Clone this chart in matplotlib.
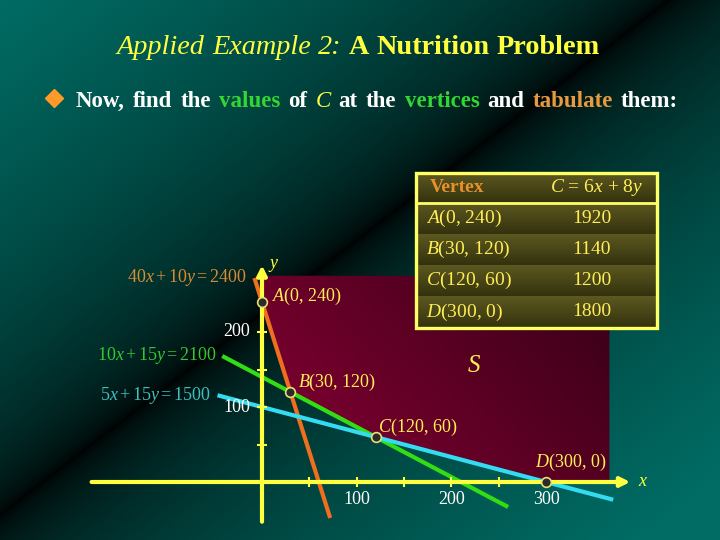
import numpy as np
import matplotlib
matplotlib.use('Agg')
import matplotlib.pyplot as plt
from matplotlib.patches import Polygon, Rectangle

plt.rcParams['font.family'] = ['Liberation Serif', 'DejaVu Serif']
plt.rcParams['mathtext.fontset'] = 'custom'
plt.rcParams['mathtext.rm'] = 'Liberation Serif'
plt.rcParams['mathtext.it'] = 'Liberation Serif:italic'
plt.rcParams['mathtext.bf'] = 'Liberation Serif:bold'

# ---------------- data ----------------
constraint_a = [40, 10, 5]
constraint_b = [10, 15, 15]
constraint_c = [2400, 2100, 1500]
constraint_labels = [r"$40x+10y=2400$", r"$10x+15y=2100$", r"$5x+15y=1500$"]
line_x_start = [-8, -42, -47]
line_x_end = [72, 260, 371]

vertex_names = ['A', 'B', 'C', 'D']
vertex_x = [0, 30, 120, 300]
vertex_y = [240, 120, 60, 0]
cost_values = [1920, 1140, 1200, 1800]

x_ticks = [50, 100, 150, 200, 250, 300]
x_tick_labels = [100, 200, 300]
y_ticks = [50, 100, 150, 200]
y_tick_labels = [100, 200]

region_xmax = 367
region_ymax = 275

title_parts = [("Applied Example 2:", 'italic', 'normal'),
               ("A Nutrition Problem", 'normal', 'bold')]
subtitle_words = [("Now,", 'w'), ("find", 'w'), ("the", 'w'), ("values", 'g'),
                  ("of", 'w'), ("C", 'yi'), ("at", 'w'), ("the", 'w'),
                  ("vertices", 'g'), ("and", 'w'), ("tabulate", 'o'), ("them:", 'w')]
table_header = ["Vertex", r"$C$ = 6$x$ + 8$y$"]

# ---------------- style ----------------
W, H = 720, 540
ORIGIN_PX = (262, 482)
SX, SY = 0.9467, 0.75
YELLOW = '#ffff40'
TXT_YELLOW = '#ffee55'
line_colors = ['#f06e1e', '#33dd14', '#33dcf0']
label_colors = ['#d88c32', '#33c833', '#3cc0c0']
word_colors = {'w': '#ffffff', 'g': '#33d633', 'o': '#e89a40', 'yi': '#ffff40'}

fig = plt.figure(figsize=(7.2, 5.4), dpi=100)
R = fig.canvas.get_renderer()

# background axes (pixel coords)
bg = fig.add_axes([0, 0, 1, 1], zorder=0)
bg.set_xlim(0, W); bg.set_ylim(H, 0); bg.axis('off')
px, py = np.meshgrid(np.arange(W) + 0.5, np.arange(H) + 0.5)
u = (0.77 * px + py) / 515.0
f = np.clip(np.abs(1 - u), 0, 1) ** 0.5
teal = np.array([0, 108, 100]) / 255.0
bgimg = f[..., None] * teal[None, None, :]
bg.imshow(bgimg, extent=[0, W, H, 0], origin='upper', aspect='auto', interpolation='bilinear')

# data axes
ax = fig.add_axes([0, 0, 1, 1], zorder=1)
ax.patch.set_alpha(0)
ax.set_xlim(-ORIGIN_PX[0] / SX, (W - ORIGIN_PX[0]) / SX)
ax.set_ylim(-(H - ORIGIN_PX[1]) / SY, ORIGIN_PX[1] / SY)
ax.axis('off')

# feasible region with gradient
gx, gy = np.meshgrid(np.linspace(0, region_xmax, 200), np.linspace(0, region_ymax, 200))
v = 0.65 * gx / region_xmax + 0.35 * gy / region_ymax
bright = np.array([135, 0, 52]) / 255.0
dark = np.array([55, 0, 22]) / 255.0
rimg = bright[None, None, :] * (1 - v[..., None]) + dark[None, None, :] * v[..., None]
im = ax.imshow(rimg, extent=[0, region_xmax, 0, region_ymax], origin='lower',
               aspect='auto', zorder=1, interpolation='bilinear')
poly_pts = [(0, region_ymax), (region_xmax, region_ymax), (region_xmax, 0)] + \
           list(zip(vertex_x[::-1], vertex_y[::-1]))
clip = Polygon(poly_pts, closed=True, transform=ax.transData, facecolor='none', edgecolor='none')
ax.add_patch(clip)
im.set_clip_path(clip)

# constraint lines
label_offsets = [(-7, 0), (-5, 0), (-7, 0)]
for a, b, c, x0, x1, col, lc, lab, off in zip(constraint_a, constraint_b, constraint_c,
                                             line_x_start, line_x_end, line_colors,
                                             label_colors, constraint_labels, label_offsets):
    xs = np.array([x0, x1], dtype=float)
    ys = (c - a * xs) / b
    ax.plot(xs, ys, color=col, lw=3, solid_capstyle='butt', zorder=3)
    ax.annotate(lab, xy=(xs[0], ys[0]), xytext=off, textcoords='offset pixels',
                ha='right', va='center', color=lc, fontsize=13, zorder=6)

# axes with arrows
ax.annotate('', xy=(389, 0), xytext=(-180, 0),
            arrowprops=dict(arrowstyle='-|>', color=YELLOW, lw=3, mutation_scale=14,
                            shrinkA=0, shrinkB=0), zorder=4)
ax.annotate('', xy=(0, 289), xytext=(0, -53),
            arrowprops=dict(arrowstyle='-|>', color=YELLOW, lw=3, mutation_scale=14,
                            shrinkA=0, shrinkB=0), zorder=4)
ax.plot(x_ticks, [0] * len(x_ticks), ls='none', marker='|', ms=7, mew=1.5, color=YELLOW, zorder=4)
ax.plot([0] * len(y_ticks), y_ticks, ls='none', marker='_', ms=7, mew=1.5, color=YELLOW, zorder=4)
for t in x_tick_labels:
    ax.annotate(str(t), xy=(t, 0), xytext=(0, -17), textcoords='offset pixels',
                ha='center', va='center', color='white', fontsize=13, zorder=6)
for t in y_tick_labels:
    ax.annotate(str(t), xy=(0, t), xytext=(-12, 0), textcoords='offset pixels',
                ha='right', va='center', color='white', fontsize=13, zorder=6)
ax.annotate('$x$', xy=(389, 0), xytext=(13, 0), textcoords='offset pixels',
            ha='center', va='center', color=YELLOW, fontsize=13, zorder=6)
ax.annotate('$y$', xy=(0, 289), xytext=(12, 0), textcoords='offset pixels',
            ha='center', va='center', color=YELLOW, fontsize=13, zorder=6)

# vertices
ax.plot(vertex_x, vertex_y, ls='none', marker='o', ms=7, mfc='#2b2b2b', mec='#e8e070',
        mew=1.2, zorder=5)
vertex_offsets = [(10, 6), (8, 10), (2, 10), (-11, 20)]
for n, xv, yv, off in zip(vertex_names, vertex_x, vertex_y, vertex_offsets):
    ax.annotate(f"${n}$({xv}, {yv})", xy=(xv, yv), xytext=off, textcoords='offset pixels',
                ha='left', va='center', color=TXT_YELLOW, fontsize=13, zorder=6)

# overlay axes (pixel coords)
ov = fig.add_axes([0, 0, 1, 1], zorder=2)
ov.patch.set_alpha(0)
ov.set_xlim(0, W); ov.set_ylim(H, 0); ov.axis('off')

ov.text(474, 366, '$S$', color=TXT_YELLOW, fontsize=18, ha='center', va='center')


def measure(s, **kw):
    t = ov.text(0, 0, s, **kw)
    w = t.get_window_extent(renderer=R).width
    t.remove()
    return w


def fit_words(words, x0, x1, baseline, base_size, fill=0.97):
    # choose font size so natural width ~ fill*target, then spread remaining in gaps
    space = measure("a a", fontsize=base_size) - measure("aa", fontsize=base_size)
    nat = sum(measure(w, **dict(kw, fontsize=base_size)) for w, kw in words) + space * (len(words) - 1)
    size = base_size * fill * (x1 - x0) / nat
    widths = [measure(w, **dict(kw, fontsize=size)) for w, kw in words]
    gap = (x1 - x0 - sum(widths)) / (len(words) - 1)
    x = x0
    for (w, kw), wd in zip(words, widths):
        ov.text(x, baseline, w, ha='left', va='baseline', **dict(kw, fontsize=size))
        x += wd + gap


# title
tw = []
for s, style, weight in title_parts:
    for w in s.split(' '):
        tw.append((w, dict(style=style, weight=weight, color=YELLOW)))
fit_words(tw, 117, 600, 54, 18, fill=1.0)

# subtitle
sw = []
for w, c in subtitle_words:
    kw = dict(weight='bold', color=word_colors[c])
    if c == 'yi':
        kw['style'] = 'italic'
        kw['weight'] = 'normal'
    sw.append((w, kw))
fit_words(sw, 76, 678, 107, 16, fill=0.96)

# bullet
ov.plot([54], [98], marker='D', ms=9, color='#ff9a2a', ls='none')

# table
tl, tr = 416, 657
row_edges = [173, 203, 234, 265, 296, 328]
light = np.array([92, 88, 32]) / 255.0
darkc = np.array([52, 50, 14]) / 255.0
for i in range(len(row_edges) - 1):
    top, bot = row_edges[i], row_edges[i + 1]
    tt = np.linspace(0, 1, 40)[:, None, None]
    g = light[None, None, :] * (1 - tt) + darkc[None, None, :] * tt
    g = np.repeat(g, 2, axis=1)
    ov.imshow(g, extent=[tl, tr, bot, top], origin='upper', aspect='auto',
              interpolation='bilinear', zorder=2)
ov.add_patch(Rectangle((tl, row_edges[0]), tr - tl, row_edges[-1] - row_edges[0],
                       fill=False, edgecolor='#ffff66', lw=2.4, zorder=4))
ov.plot([tl, tr], [row_edges[1], row_edges[1]], color='#ffff66', lw=2.0, zorder=4)
ov.set_xlim(0, W); ov.set_ylim(H, 0)

hy = (row_edges[0] + row_edges[1]) / 2
ov.text(430, hy, table_header[0], color='#e8902a', fontsize=14, weight='bold',
        ha='left', va='center', zorder=5)
ov.text(550, hy, table_header[1], color=TXT_YELLOW, fontsize=14, ha='left', va='center', zorder=5)
for i, (n, xv, yv, cv) in enumerate(zip(vertex_names, vertex_x, vertex_y, cost_values)):
    cy = (row_edges[i + 1] + row_edges[i + 2]) / 2
    ov.text(426, cy, f"${n}$({xv}, {yv})", color=TXT_YELLOW, fontsize=14,
            ha='left', va='center', zorder=5)
    ov.text(572, cy, str(cv), color=TXT_YELLOW, fontsize=14, ha='left', va='center', zorder=5)

fig.savefig('out.png', dpi=100)
